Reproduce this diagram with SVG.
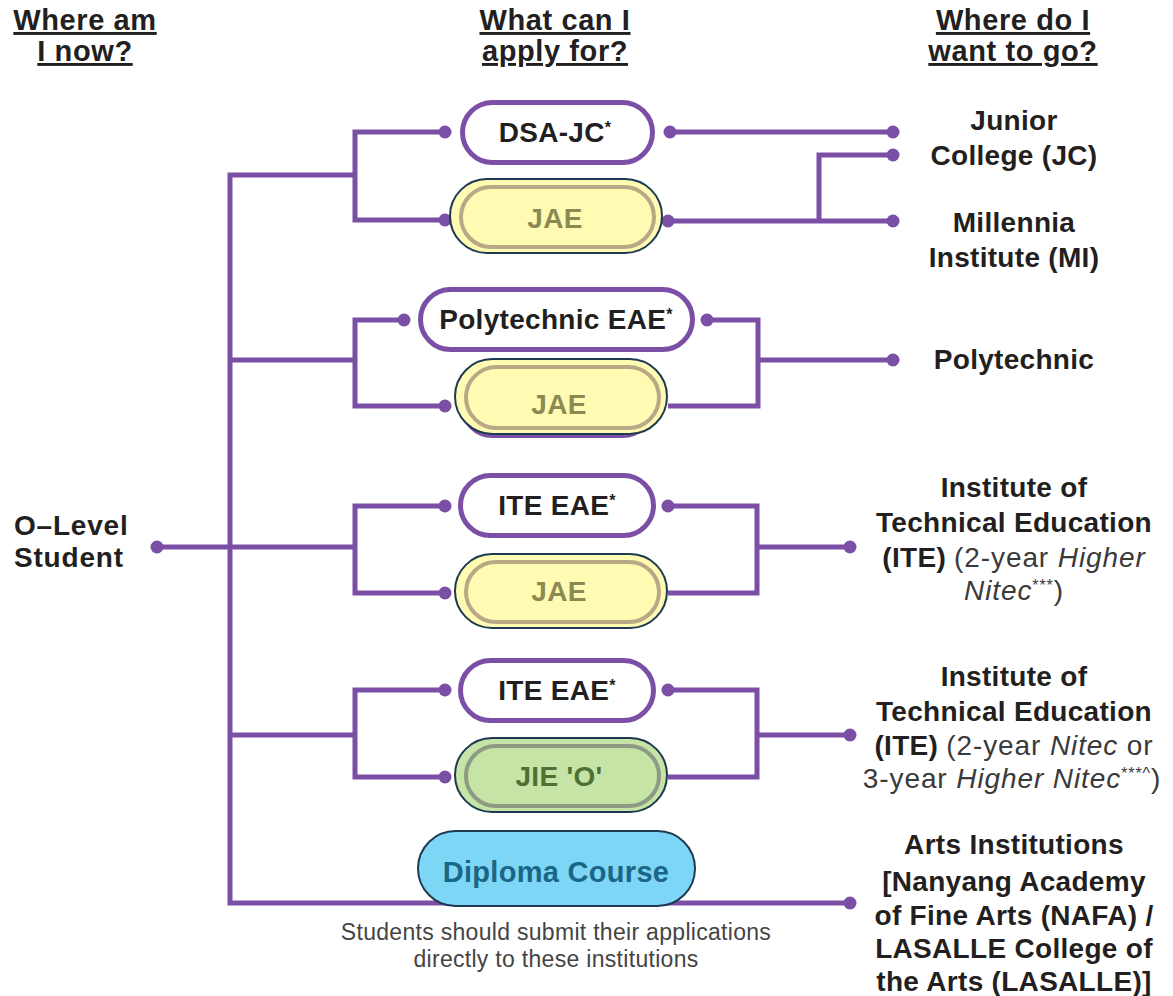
<svg xmlns="http://www.w3.org/2000/svg" width="1173" height="996" viewBox="0 0 1173 996">
<defs>
<style>
.hd{font-family:"Liberation Sans",Arial,sans-serif;font-weight:bold;font-size:29px;fill:#231F20;text-anchor:middle;text-decoration:underline;letter-spacing:0.6px}
.lb{font-family:"Liberation Sans",Arial,sans-serif;font-weight:bold;font-size:28px;fill:#231F20;text-anchor:middle;letter-spacing:0.3px}
.rg{font-weight:normal;fill:#3a3a3a;letter-spacing:0.9px}
.it{font-style:italic;font-weight:normal;fill:#3a3a3a;letter-spacing:0.9px}
.sup{font-size:16px}
.ln{fill:none;stroke:#7B4FA5;stroke-width:5;stroke-linejoin:miter}
.dot{fill:#7B4FA5}
.wp{fill:#fff;stroke:#7B4FA5;stroke-width:5}
.yp{fill:#FFFBB3;stroke:#1E3A52;stroke-width:2}
.yr{fill:none;stroke:#B8A886;stroke-width:4}
.gp{fill:#C6E4A6;stroke:#1E3A52;stroke-width:2}
.gr{fill:none;stroke:#8E9A84;stroke-width:4}
.pt{font-family:"Liberation Sans",Arial,sans-serif;font-weight:bold;font-size:28px;text-anchor:middle;letter-spacing:0.3px}
.note{font-family:"Liberation Sans",Arial,sans-serif;font-size:23px;fill:#444;text-anchor:middle;letter-spacing:0.3px}
</style>
</defs>
<rect width="1173" height="996" fill="#fff"/>

<g id="headings">
<text class="hd" x="85" y="30">Where am</text>
<text class="hd" x="85" y="61">I now?</text>
<text class="hd" x="555" y="30">What can I</text>
<text class="hd" x="555" y="61">apply for?</text>
<text class="hd" x="1013" y="30">Where do I</text>
<text class="hd" x="1013" y="61">want to go?</text>
</g>

<g id="connectors">
<path class="ln" d="M157,547 H230"/>
<path class="ln" d="M355,175 H230 V903 H850"/>
<path class="ln" d="M445,132 H355 V220 H445"/>
<path class="ln" d="M670,132 H893"/>
<path class="ln" d="M668,221 H893 M819,221 V155 H893"/>
<path class="ln" d="M230,360 H355 M404,320 H355 V406 H445"/>
<path class="ln" d="M707,320 H758 V406 H668 M758,360 H893"/>
<path class="ln" d="M230,547 H355 M445,506 H355 V593 H445"/>
<path class="ln" d="M668,506 H757 V593 H668 M757,547 H850"/>
<path class="ln" d="M230,735 H355 M445,690 H355 V777 H445"/>
<path class="ln" d="M668,690 H757 V777 H668 M757,735 H850"/>
<g class="dot">
<circle cx="157" cy="547" r="6.5"/>
<circle cx="445" cy="132" r="6.5"/><circle cx="445" cy="220" r="6.5"/>
<circle cx="670" cy="132" r="6.5"/><circle cx="893" cy="132" r="6.5"/>
<circle cx="668" cy="221" r="6.5"/><circle cx="893" cy="155" r="6.5"/><circle cx="893" cy="221" r="6.5"/>
<circle cx="404" cy="320" r="6.5"/><circle cx="445" cy="406" r="6.5"/>
<circle cx="707" cy="320" r="6.5"/><circle cx="893" cy="360" r="6.5"/>
<circle cx="445" cy="506" r="6.5"/><circle cx="445" cy="593" r="6.5"/>
<circle cx="668" cy="506" r="6.5"/><circle cx="850" cy="547" r="6.5"/>
<circle cx="445" cy="690" r="6.5"/><circle cx="445" cy="777" r="6.5"/>
<circle cx="668" cy="690" r="6.5"/><circle cx="850" cy="735" r="6.5"/>
<circle cx="850" cy="903" r="6.5"/>
</g>
</g>

<g id="olevel">
<text class="lb" x="14" y="535" style="text-anchor:start;letter-spacing:0.8px">O–Level</text>
<text class="lb" x="14" y="567" style="text-anchor:start;letter-spacing:0.8px">Student</text>
</g>

<g id="dsa-jc">
<rect class="wp" x="462.5" y="102.5" width="190" height="60" rx="30"/>
<text class="pt" x="555" y="142" fill="#231F20">DSA-JC<tspan class="sup" dy="-9">*</tspan></text>
</g>
<g id="jae-jc">
<rect class="yp" x="450" y="179" width="212" height="74" rx="37"/>
<rect class="yr" x="461" y="187" width="193" height="60" rx="30"/>
<text class="pt" x="555" y="228" fill="#8A8A52">JAE</text>
</g>

<g id="poly-eae">
<rect class="wp" x="420.5" y="289.5" width="272" height="60" rx="30"/>
<text class="pt" x="556" y="329" fill="#231F20">Polytechnic EAE<tspan class="sup" dy="-9">*</tspan></text>
</g>
<g id="jae-poly">
<rect class="wp" x="462.5" y="375.5" width="190" height="60" rx="30"/>
<rect class="yp" x="455" y="359" width="212" height="75" rx="37.5"/>
<rect class="yr" x="466" y="367" width="193" height="61" rx="30.5"/>
<text class="pt" x="559" y="414" fill="#8A8A52">JAE</text>
</g>

<g id="ite-eae-1">
<rect class="wp" x="460.5" y="475.5" width="193" height="60" rx="30"/>
<text class="pt" x="557" y="515" fill="#231F20">ITE EAE<tspan class="sup" dy="-9">*</tspan></text>
</g>
<g id="jae-ite">
<rect class="yp" x="455" y="554" width="212" height="74" rx="37"/>
<rect class="yr" x="466" y="562" width="193" height="60" rx="30"/>
<text class="pt" x="559" y="601" fill="#8A8A52">JAE</text>
</g>

<g id="ite-eae-2">
<rect class="wp" x="460.5" y="660.5" width="193" height="60" rx="30"/>
<text class="pt" x="557" y="700" fill="#231F20">ITE EAE<tspan class="sup" dy="-9">*</tspan></text>
</g>
<g id="jie-o">
<rect class="gp" x="455" y="738" width="212" height="74" rx="37"/>
<rect class="gr" x="466" y="746" width="193" height="60" rx="30"/>
<text class="pt" x="559" y="786" fill="#4F7034">JIE 'O'</text>
</g>

<g id="diploma">
<rect x="418" y="831" width="277" height="75" rx="37.5" fill="#7DD6F6" stroke="#1E3A52" stroke-width="2"/>
<text class="pt" x="556" y="882" fill="#1B6585" style="font-size:29px">Diploma Course</text>
<text class="note" x="556" y="940">Students should submit their applications</text>
<text class="note" x="556" y="967">directly to these institutions</text>
</g>

<g id="jc">
<text class="lb" x="1014" y="130">Junior</text>
<text class="lb" x="1014" y="165">College (JC)</text>
</g>
<g id="mi">
<text class="lb" x="1014" y="232">Millennia</text>
<text class="lb" x="1014" y="267">Institute (MI)</text>
</g>
<g id="polytechnic">
<text class="lb" x="1014" y="369">Polytechnic</text>
</g>
<g id="ite-higher-nitec">
<text class="lb" x="1014" y="497">Institute of</text>
<text class="lb" x="1014" y="532">Technical Education</text>
<text class="lb" x="1014" y="567">(ITE) <tspan class="rg">(2-year </tspan><tspan class="it">Higher</tspan></text>
<text class="lb" x="1014" y="600"><tspan class="it">Nitec</tspan><tspan class="rg"><tspan class="sup" dy="-9">***</tspan><tspan dy="9">)</tspan></tspan></text>
</g>
<g id="ite-nitec">
<text class="lb" x="1014" y="686">Institute of</text>
<text class="lb" x="1014" y="721">Technical Education</text>
<text class="lb" x="1014" y="755">(ITE) <tspan class="rg">(2-year </tspan><tspan class="it">Nitec</tspan><tspan class="rg"> or</tspan></text>
<text class="lb" x="1012" y="788"><tspan class="rg">3-year </tspan><tspan class="it">Higher Nitec</tspan><tspan class="rg"><tspan class="sup" dy="-9">***^</tspan><tspan dy="9">)</tspan></tspan></text>
</g>
<g id="arts">
<text class="lb" x="1014" y="854">Arts Institutions</text>
<text class="lb" x="1014" y="891">[Nanyang Academy</text>
<text class="lb" x="1014" y="925">of Fine Arts (NAFA) /</text>
<text class="lb" x="1014" y="958">LASALLE College of</text>
<text class="lb" x="1014" y="991">the Arts (LASALLE)]</text>
</g>
</svg>
